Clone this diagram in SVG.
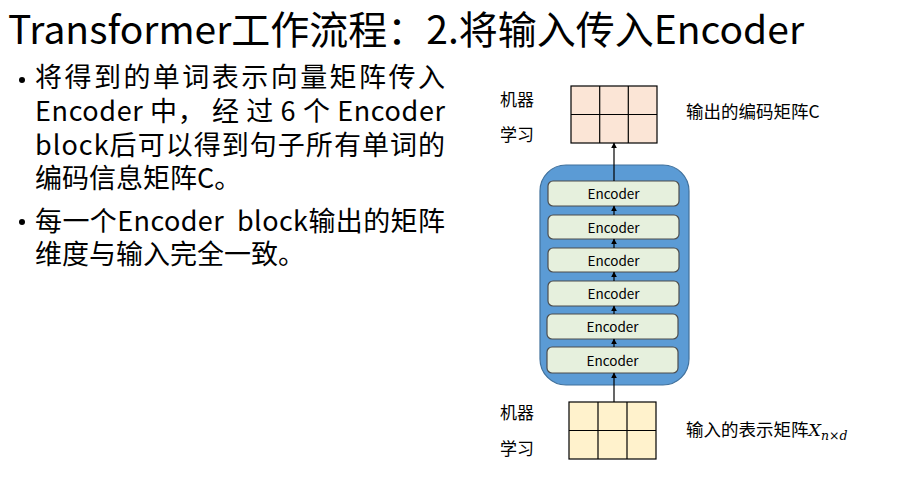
<svg xmlns="http://www.w3.org/2000/svg" width="912" height="486" viewBox="0 0 912 486">
<style>
text{font-family:"Noto Sans CJK SC","Noto Sans",sans-serif;fill:#000}
.title{font-size:39px}
.body{font-size:27px}
.lbl{font-size:17px}
.rl{font-size:17.5px}
.enc rect{fill:#E6F0DD;stroke:#4D4D4D;stroke-width:1.2}
.enc text{font-size:13.5px;text-anchor:middle}
.grid line{stroke:#000;stroke-width:1.2}
.conn line{stroke:#000;stroke-width:1.2;fill:none}
</style>
<defs>
<marker id="ah" viewBox="0 0 10 10" refX="9" refY="5" markerWidth="6" markerHeight="6" markerUnits="userSpaceOnUse" orient="auto">
<path d="M0,0 L10,5 L0,10 z" fill="#000"/>
</marker>
</defs>
<rect width="912" height="486" fill="#fff"/>
<text class="title" x="8" y="44">Transformer工作流程：2.将输入传入Encoder</text>
<g id="bullets">
<circle cx="22" cy="80" r="3" fill="#000"/>
<text class="body" x="35" y="87" textLength="410" lengthAdjust="spacing">将得到的单词表示向量矩阵传入</text>
<text class="body" x="35" y="121" textLength="410" lengthAdjust="spacing">Encoder 中， 经 过 6 个 Encoder</text>
<text class="body" x="35" y="155" textLength="410" lengthAdjust="spacing">block后可以得到句子所有单词的</text>
<text class="body" x="35" y="188">编码信息矩阵C。</text>
<circle cx="22" cy="222" r="3" fill="#000"/>
<text class="body" x="35" y="231" textLength="410" lengthAdjust="spacing">每一个Encoder&#160; block输出的矩阵</text>
<text class="body" x="35" y="264">维度与输入完全一致。</text>
</g>
<g id="output-matrix">
<rect x="571" y="86" width="86" height="57" fill="#FBE5D6" stroke="#000" stroke-width="1.2"/>
<g class="grid"><line x1="599.7" y1="86" x2="599.7" y2="143"/><line x1="628.3" y1="86" x2="628.3" y2="143"/><line x1="571" y1="114.5" x2="657" y2="114.5"/></g>
<text class="lbl" x="500" y="106">机器</text>
<text class="lbl" x="500" y="141">学习</text>
<text class="rl" x="686" y="118">输出的编码矩阵C</text>
</g>
<g id="encoder-stack">
<rect x="540" y="165" width="149" height="220" rx="26" fill="#5B9BD5" stroke="#41719C" stroke-width="1.2"/>
</g>
<g id="enc1" class="enc"><rect x="548" y="181" width="131" height="25" rx="5"/><text x="613.5" y="198.5">Encoder</text></g>
<g id="enc2" class="enc"><rect x="548" y="215" width="131" height="24" rx="5"/><text x="613.5" y="232.5">Encoder</text></g>
<g id="enc3" class="enc"><rect x="548" y="248" width="131" height="24" rx="5"/><text x="613.5" y="265.5">Encoder</text></g>
<g id="enc4" class="enc"><rect x="548" y="281" width="131" height="25" rx="5"/><text x="613.5" y="298.5">Encoder</text></g>
<g id="enc5" class="enc"><rect x="547" y="314" width="131" height="25" rx="5"/><text x="612.5" y="331.5">Encoder</text></g>
<g id="enc6" class="enc"><rect x="547" y="347" width="131" height="26" rx="5"/><text x="612.5" y="365.5">Encoder</text></g>
<g id="input-matrix">
<rect x="569" y="402" width="87" height="57" fill="#FFF2CC" stroke="#000" stroke-width="1.2"/>
<g class="grid"><line x1="598" y1="402" x2="598" y2="459"/><line x1="627" y1="402" x2="627" y2="459"/><line x1="569" y1="430.5" x2="656" y2="430.5"/></g>
<text class="lbl" x="500" y="419">机器</text>
<text class="lbl" x="500" y="455">学习</text>
<text class="rl" x="686" y="436">输入的表示矩阵<tspan font-family="'DejaVu Serif',serif" font-style="italic">X</tspan><tspan font-family="'DejaVu Serif',serif" font-style="italic" font-size="12.5" dy="4">n×d</tspan></text>
</g>
<g id="connectors" class="conn">
<line x1="614" y1="402" x2="614" y2="373" marker-end="url(#ah)"/>
<line x1="614" y1="347" x2="614" y2="339" marker-end="url(#ah)"/>
<line x1="614" y1="314" x2="614" y2="306" marker-end="url(#ah)"/>
<line x1="614" y1="281" x2="614" y2="272" marker-end="url(#ah)"/>
<line x1="614" y1="248" x2="614" y2="239" marker-end="url(#ah)"/>
<line x1="614" y1="215" x2="614" y2="206" marker-end="url(#ah)"/>
<line x1="614" y1="181" x2="614" y2="143" marker-end="url(#ah)"/>
</g>
</svg>
